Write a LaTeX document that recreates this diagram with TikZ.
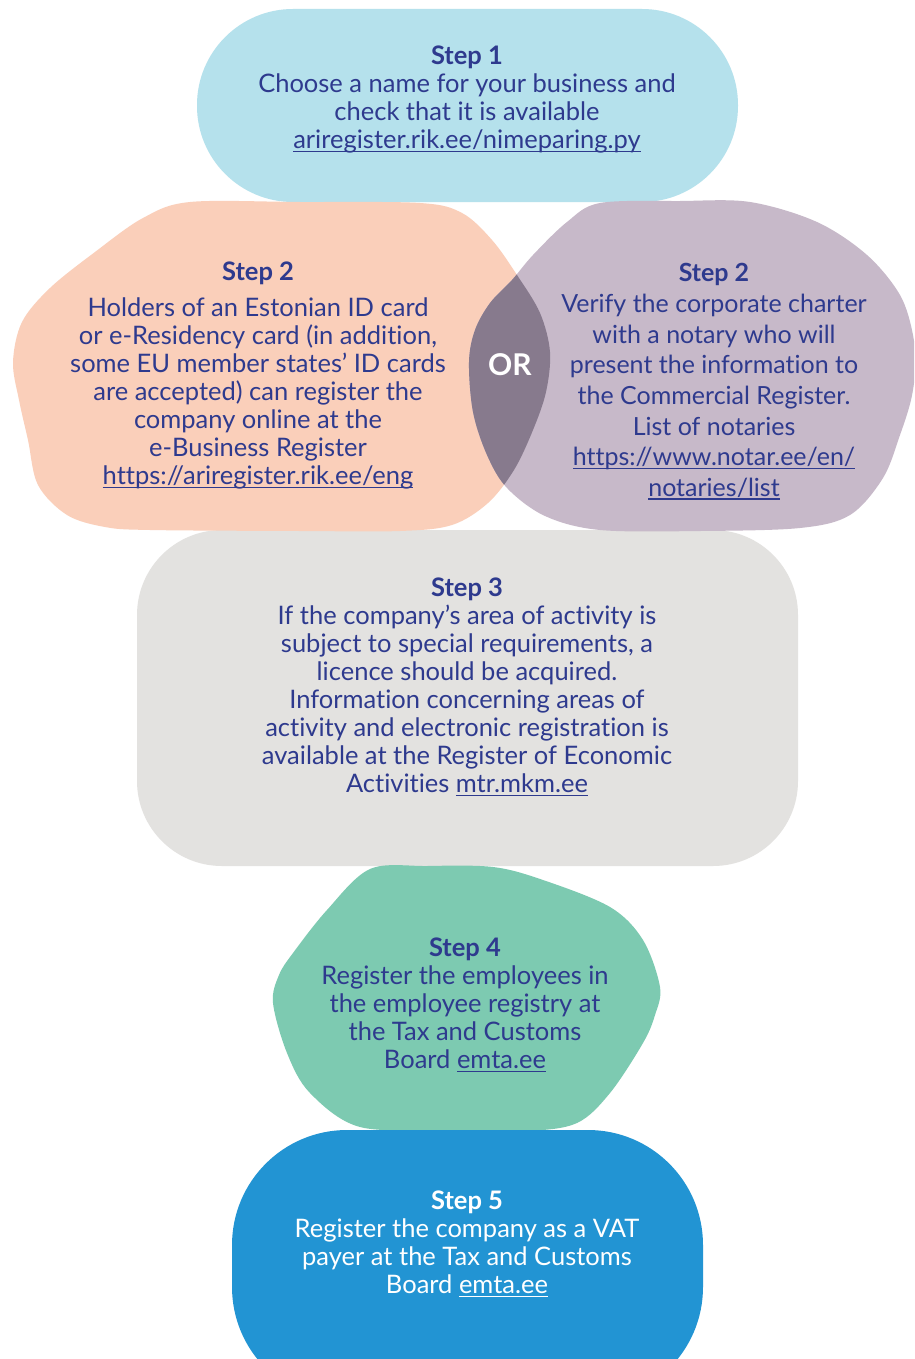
\documentclass[tikz,border=0pt]{standalone}
\usepackage{fontspec}
\setmainfont{Lato}[Ligatures=NoCommon]
\definecolor{txtblue}{HTML}{2E3A8E}
\definecolor{cone}{HTML}{B5E1EC}
\definecolor{cpeach}{HTML}{FACFBA}
\definecolor{cpurple}{HTML}{C7B9C9}
\definecolor{cover}{HTML}{877A8D}
\definecolor{cgrey}{HTML}{E3E2E0}
\definecolor{cgreen}{HTML}{7DCAB1}
\definecolor{cblue}{HTML}{2294D3}
\newcommand\ulink[1]{\leavevmode\setbox0=\hbox{#1}\rlap{\rule[-3pt]{\wd0}{1.2pt}}\box0}
\tikzset{
  txt/.style={align=center, text=txtblue, inner sep=0pt, font=\fontsize{25.5}{28}\selectfont},
  peachpath/.style={insert path={plot[smooth cycle, tension=0.55] coordinates {
    (190,202) (300,202) (420,203) (462,213) (492,240) (517,275) (540,313) (550,352)
    (546,392) (533,430) (514,470) (488,503) (452,525) (400,531) (300,531) (150,530)
    (105,527) (67,515) (38,485) (28,440) (19,400) (13,362) (22,322) (50,288) (95,252) (143,218)}}},
  purplepath/.style={insert path={plot[smooth cycle, tension=0.55] coordinates {
    (600,203) (680,201) (750,202) (817,222) (867,255) (900,295) (913,335) (915,370)
    (911,400) (900,435) (883,478) (850,515) (800,528) (700,531) (600,530) (545,516)
    (507,488) (487,455) (473,412) (469,362) (475,330) (490,303) (512,280) (533,255) (567,222)}}},
  greenpath/.style={insert path={plot[smooth cycle, tension=0.55] coordinates {
    (370,869) (427,866) (493,867) (543,880) (610,907) (643,940) (660,987) (655,1015)
    (643,1043) (610,1093) (577,1123) (527,1131) (450,1130) (360,1127) (310,1093)
    (287,1053) (273,1003) (279,975) (293,953) (327,910)}}}
}
\begin{document}
\begin{tikzpicture}[x=1pt,y=-1pt]
\useasboundingbox (0,0) rectangle (914,1359);
\clip (0,0) rectangle (914,1359);
\fill[white] (0,0) rectangle (914,1359);
% shapes
\fill[cone, rounded corners=96pt] (197,9) rectangle (738,202);
\fill[cgrey, rounded corners=85pt] (137,530) rectangle (798,866);
\fill[cpeach, peachpath];
\fill[cpurple, purplepath];
\begin{scope}
  \clip[peachpath];
  \fill[cover, purplepath];
\end{scope}
\fill[cgreen, greenpath];
\fill[cblue, rounded corners=115pt] (232,1130) rectangle (703,1402);
% texts
\node[txt] (s1) at (467,100) {\textbf{Step 1}\\Choose a name for your business and\\check that it is available\\\ulink{ariregister.rik.ee/nimeparing.py}};
\node[txt] (s2a) at (258,376) {\textbf{Step 2}\\[8pt]Holders of an Estonian ID card\\or e-Residency card (in addition,\\some EU member states’ ID cards\\are accepted) can register the\\company online at the\\e-Business Register\\\ulink{https://ariregister.rik.ee/eng}};
\node[txt, font=\fontsize{25}{30.7}\selectfont] (s2b) at (714,381.5) {\textbf{Step 2}\\Verify the corporate charter\\with a notary who will\\present the information to\\the Commercial Register.\\List of notaries\\\ulink{https://www.notar.ee/en/}\\\ulink{notaries/list}};
\node[txt, text=white, font=\fontsize{30}{34}\bfseries] (or) at (510,365) {OR};
\node[txt] (s3) at (467,687) {\textbf{Step 3}\\If the company’s area of activity is\\subject to special requirements, a\\licence should be acquired.\\Information concerning areas of\\activity and electronic registration is\\available at the Register of Economic\\Activities \ulink{mtr.mkm.ee}};
\node[txt] (s4) at (465,1005) {\textbf{Step 4}\\Register the employees in\\the employee registry at\\the Tax and Customs\\Board \ulink{emta.ee}};
\node[txt, text=white] (s5) at (467,1244) {\textbf{Step 5}\\Register the company as a VAT\\payer at the Tax and Customs\\Board \ulink{emta.ee}};
\end{tikzpicture}
\end{document}
